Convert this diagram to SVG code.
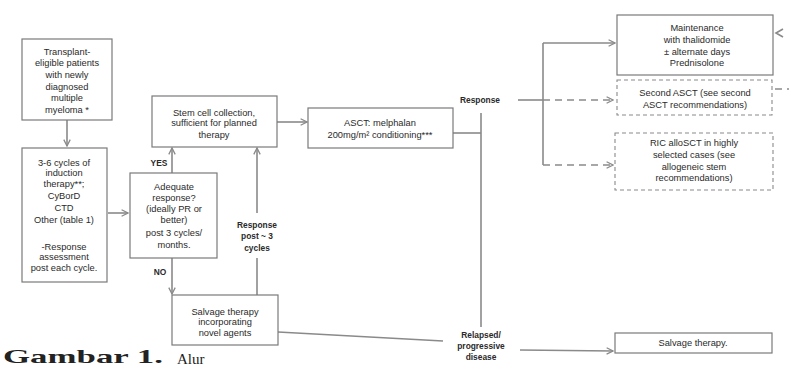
<svg xmlns="http://www.w3.org/2000/svg" width="789" height="366" viewBox="0 0 789 366">
<style>
.bx{fill:#fff;stroke:#7a7a7a;stroke-width:1.2}
.dbx{fill:#fff;stroke:#8a8a8a;stroke-width:1.1;stroke-dasharray:4 3}
.t{font-family:"Liberation Sans",Arial,sans-serif;font-size:9.3px;fill:#2a2a2a;text-anchor:middle}
.b{font-family:"Liberation Sans",Arial,sans-serif;font-size:8.4px;font-weight:bold;fill:#2a2a2a;text-anchor:middle}
.ln{fill:none;stroke:#8a8a8a;stroke-width:1.6}
.dl{fill:none;stroke:#8a8a8a;stroke-width:1.4;stroke-dasharray:7 5}
</style>
<defs>
<marker id="ah" viewBox="0 0 10 10" refX="9" refY="5" markerWidth="8" markerHeight="8" markerUnits="userSpaceOnUse" orient="auto">
<polyline points="1,1 9,5 1,9" fill="none" stroke="#8a8a8a" stroke-width="1.6"/>
</marker>
</defs>
<rect x="0" y="0" width="789" height="366" fill="#ffffff"/>
<g id="connectors">
<line class="ln" x1="67" y1="120" x2="67" y2="146" marker-end="url(#ah)"/>
<line class="ln" x1="108" y1="213" x2="128" y2="213" marker-end="url(#ah)"/>
<line class="ln" x1="172" y1="173" x2="172" y2="148" marker-end="url(#ah)"/>
<line class="ln" x1="172" y1="258" x2="172" y2="294" marker-end="url(#ah)"/>
<line class="ln" x1="257" y1="295" x2="257" y2="258"/>
<line class="ln" x1="257" y1="213" x2="257" y2="148" marker-end="url(#ah)"/>
<line class="ln" x1="277" y1="122" x2="307" y2="122" marker-end="url(#ah)"/>
<line class="ln" x1="453" y1="133" x2="481" y2="133"/>
<line class="ln" x1="481" y1="113" x2="481" y2="327"/>
<line class="ln" x1="518" y1="100" x2="543" y2="100"/>
<line class="dl" x1="543" y1="100" x2="613" y2="100" marker-end="url(#ah)"/>
<line class="ln" x1="543" y1="43" x2="543" y2="165"/>
<line class="ln" x1="543" y1="43" x2="615" y2="43" marker-end="url(#ah)"/>
<line class="dl" x1="543" y1="165" x2="613" y2="165" marker-end="url(#ah)"/>
<line class="ln" x1="278" y1="332" x2="443" y2="341"/>
<line class="ln" x1="520" y1="350" x2="613" y2="351" marker-end="url(#ah)"/>
<polyline class="ln" points="783,29 776,33 783,37"/>
<line class="dl" x1="775" y1="89" x2="789" y2="89"/>
<text class="b" x="159" y="166">YES</text>
<text class="b" x="160" y="275">NO</text>
<text class="b" x="257" y="228">Response</text>
<text class="b" x="257" y="239">post ~ 3</text>
<text class="b" x="257" y="251">cycles</text>
<text class="b" x="480" y="103">Response</text>
<text class="b" x="481" y="338">Relapsed/</text>
<text class="b" x="481" y="349">progressive</text>
<text class="b" x="481" y="360">disease</text>
</g>
<g id="n1">
<rect class="bx" x="22" y="39" width="90" height="81"/>
<text class="t" x="67" y="55">Transplant-</text>
<text class="t" x="67" y="66">eligible patients</text>
<text class="t" x="67" y="78">with newly</text>
<text class="t" x="67" y="90">diagnosed</text>
<text class="t" x="67" y="101">multiple</text>
<text class="t" x="67" y="113">myeloma *</text>
</g>
<g id="n2">
<rect class="bx" x="22" y="148" width="85" height="134"/>
<text class="t" x="64" y="166">3-6 cycles of</text>
<text class="t" x="64" y="176">induction</text>
<text class="t" x="64" y="187">therapy**;</text>
<text class="t" x="64" y="199">CyBorD</text>
<text class="t" x="64" y="211">CTD</text>
<text class="t" x="64" y="223">Other (table 1)</text>
<text class="t" x="64" y="250">-Response</text>
<text class="t" x="64" y="260">assessment</text>
<text class="t" x="64" y="271">post each cycle.</text>
</g>
<g id="n3">
<rect class="bx" x="130" y="173" width="87" height="85"/>
<text class="t" x="174" y="190">Adequate</text>
<text class="t" x="174" y="201">response?</text>
<text class="t" x="174" y="212">(ideally PR or</text>
<text class="t" x="174" y="223">better)</text>
<text class="t" x="174" y="236">post 3 cycles/</text>
<text class="t" x="174" y="248">months.</text>
</g>
<g id="n4">
<rect class="bx" x="152" y="96" width="125" height="51"/>
<text class="t" x="214" y="116">Stem cell collection,</text>
<text class="t" x="214" y="126">sufficient for planned</text>
<text class="t" x="214" y="138">therapy</text>
</g>
<g id="n5">
<rect class="bx" x="172" y="295" width="106" height="50"/>
<text class="t" x="225" y="315">Salvage therapy</text>
<text class="t" x="225" y="325">incorporating</text>
<text class="t" x="225" y="336">novel agents</text>
</g>
<g id="n6">
<rect class="bx" x="308" y="108" width="145" height="40"/>
<text class="t" x="380" y="126">ASCT: melphalan</text>
<text class="t" x="380" y="138">200mg/m² conditioning***</text>
</g>
<g id="n7">
<rect class="bx" x="617" y="15" width="156" height="60"/>
<text class="t" x="697" y="31">Maintenance</text>
<text class="t" x="697" y="43">with thalidomide</text>
<text class="t" x="697" y="55">± alternate days</text>
<text class="t" x="697" y="66">Prednisolone</text>
</g>
<g id="n8">
<rect class="dbx" x="617" y="80" width="155" height="35"/>
<text class="t" x="695" y="96">Second ASCT (see second</text>
<text class="t" x="695" y="108">ASCT recommendations)</text>
</g>
<g id="n9">
<rect class="dbx" x="615" y="133" width="158" height="57"/>
<text class="t" x="694" y="146">RIC alloSCT in highly</text>
<text class="t" x="694" y="158">selected cases (see</text>
<text class="t" x="694" y="170">allogeneic stem</text>
<text class="t" x="694" y="181">recommendations)</text>
</g>
<g id="n10">
<rect class="bx" x="615" y="333" width="157" height="20"/>
<text class="t" x="693" y="346">Salvage therapy.</text>
</g>
<g id="caption">
<text x="3" y="363" font-family="Liberation Serif,'Times New Roman',serif" font-size="19" font-weight="bold" fill="#222" textLength="160" lengthAdjust="spacingAndGlyphs">Gambar 1.</text>
<text x="177" y="364" font-family="Liberation Serif,'Times New Roman',serif" font-size="15" fill="#222">Alur</text>
</g>
</svg>
